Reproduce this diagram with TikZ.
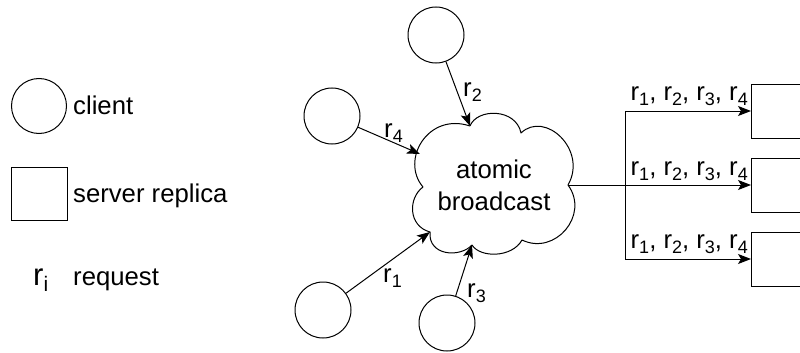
\documentclass[tikz,border=0pt]{standalone}
\usepackage{fontspec}
\setmainfont{Liberation Sans}
\usetikzlibrary{arrows.meta}
\newcommand\sbs[1]{\raisebox{-5pt}{\fontsize{18}{18}\selectfont #1}}
\begin{document}
\begin{tikzpicture}[x=1pt,y=-1pt,
  every node/.style={font=\fontsize{25.7}{32}\selectfont, inner sep=0pt},
  client/.style={draw, circle, minimum size=56pt, line width=1pt},
  replica/.style={draw, rectangle, minimum width=56pt, minimum height=54pt, line width=1pt, anchor=west},
  conn/.style={line width=1pt, -{Stealth[length=13pt,width=10pt,inset=3pt]}},
  plain/.style={line width=1pt},
]
\clip (0,0) rectangle (800,353);

% legend
\node[client, minimum size=55pt] (lc) at (39,106) {};
\node[anchor=base west] (lct) at (73,114) {client};
\node[draw, rectangle, minimum width=56pt, minimum height=53pt, line width=1pt] (ls) at (39,193.5) {};
\node[anchor=base west] (lst) at (73,202) {server replica};
\node[anchor=base west, font=\fontsize{31}{34}\selectfont] (lr) at (33,285) {r\raisebox{-6pt}{\fontsize{21}{21}\selectfont i}};
\node[anchor=base west] (lrt) at (73,285) {request};

% clients
\node[client] (c2) at (436,35) {};
\node[client] (c4) at (332,116) {};
\node[client] (c1) at (323,310) {};
\node[client] (c3) at (447,323) {};

% cloud
\coordinate (nA) at (470,126);
\coordinate (nB) at (521,133);
\coordinate (nC) at (568,185);
\coordinate (nD) at (522,240);
\coordinate (nE) at (472,245);
\coordinate (nF) at (430,232);
\coordinate (nG) at (423,187);
\coordinate (t4) at (420,154);
\draw[plain, line join=round] (nA) .. controls (477,108) and (516,108) .. (nB)
 .. controls (545,110) and (588,150) .. (nC)
 .. controls (590,215) and (555,256) .. (nD)
 .. controls (512,258) and (480,258) .. (nE)
 .. controls (460,258) and (428,256) .. (nF)
 .. controls (408,226) and (408,198) .. (nG)
 .. controls (400,160) and (428,112) .. (nA);
\node[align=center] (cl) at (494,185) {atomic\\broadcast};

% client arrows
\draw[conn] (c2) -- (nA);
\draw[conn] (c4) -- (t4);
\draw[conn] (c1) -- (nF);
\draw[conn] (c3) -- (nE);
\node[anchor=base west] (l2) at (463,96) {r\sbs{2}};
\node[anchor=base west] (l4) at (384,137) {r\sbs{4}};
\node[anchor=base west] (l1) at (383,282) {r\sbs{1}};
\node[anchor=base west] (l3) at (467,297) {r\sbs{3}};

% replicas
\node[replica] (s1) at (751,111) {};
\node[replica] (s2) at (751,185) {};
\node[replica] (s3) at (751,259) {};
\coordinate (jt) at (625,111);
\coordinate (jb) at (625,259);
\draw[conn] (nC) -- (s2);
\draw[plain] (jt) -- (jb);
\draw[conn] (jt) -- (s1);
\draw[conn] (jb) -- (s3);
\node[anchor=base east] (m1) at (748,100) {r\sbs{1}, r\sbs{2}, r\sbs{3}, r\sbs{4}};
\node[anchor=base east] (m2) at (748,175) {r\sbs{1}, r\sbs{2}, r\sbs{3}, r\sbs{4}};
\node[anchor=base east] (m3) at (748,248) {r\sbs{1}, r\sbs{2}, r\sbs{3}, r\sbs{4}};
\end{tikzpicture}
\end{document}
